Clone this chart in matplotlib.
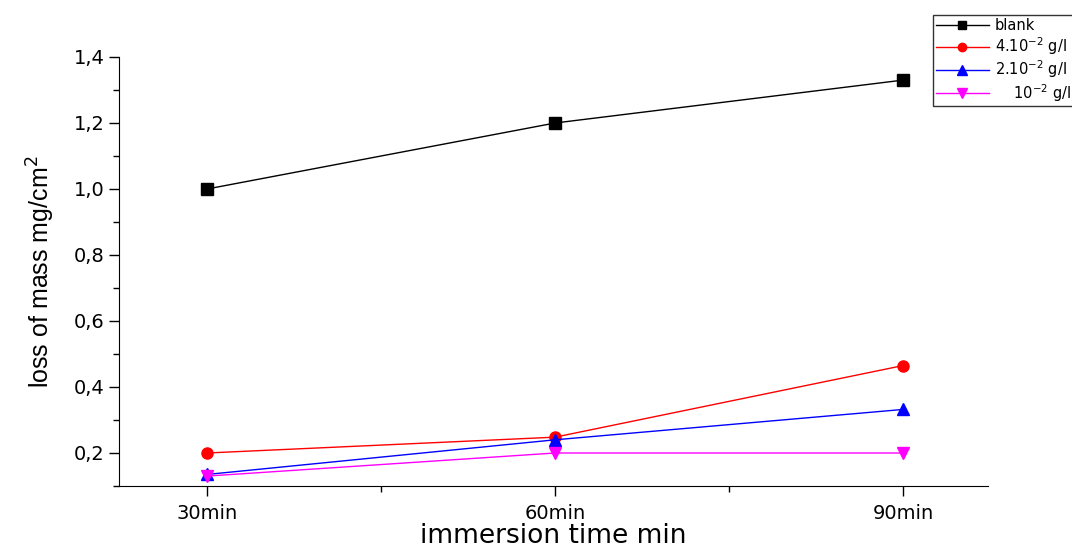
import matplotlib
matplotlib.use("Agg")
import matplotlib.pyplot as plt
from matplotlib.ticker import MultipleLocator, FuncFormatter

# data
times = ["30min", "60min", "90min"]
blank = [1.0, 1.2, 1.33]
c4 = [0.2, 0.248, 0.465]
c2 = [0.135, 0.24, 0.332]
c1 = [0.13, 0.2, 0.2]

plt.rcParams['font.family'] = ['DejaVu Sans']

fig = plt.figure(figsize=(10.72, 5.49), dpi=100)
ax = fig.add_axes([119/1072, 63/549, (988-119)/1072, (486-57)/549])

x = range(len(times))
ax.plot(x, blank, color='black', marker='s', ms=8, lw=1, label='blank')
ax.plot(x, c4, color='red', marker='o', ms=8, lw=1, label='4.10$^{-2}$ g/l')
ax.plot(x, c2, color='blue', marker='^', ms=9, lw=1, label='2.10$^{-2}$ g/l')
ax.plot(x, c1, color='magenta', marker='v', ms=9, lw=1, label='    10$^{-2}$ g/l')

ax.set_xlim(-0.253, 2.244)
ax.set_ylim(0.1, 1.4)
ax.set_xticks(list(x))
ax.set_xticklabels(times)
ax.xaxis.set_minor_locator(MultipleLocator(0.5))
ax.yaxis.set_minor_locator(MultipleLocator(0.1))
ax.set_yticks([0.2, 0.4, 0.6, 0.8, 1.0, 1.2, 1.4])
ax.yaxis.set_major_formatter(FuncFormatter(lambda v, p: f"{v:.1f}".replace('.', ',')))

ax.spines['top'].set_visible(False)
ax.spines['right'].set_visible(False)
ax.tick_params(which='major', direction='out', length=7, width=1, labelsize=14)
ax.tick_params(which='minor', direction='out', length=4, width=1)
ax.tick_params(axis='x', pad=6)

ax.set_xlabel('immersion time min', fontsize=19, labelpad=0)
ax.set_ylabel('loss of mass mg/cm$^2$', fontsize=18, labelpad=12,
              family=['Liberation Sans'])

leg = fig.legend(loc='upper left', bbox_to_anchor=(926/1072, 1 - 8/549),
                 fontsize=10.5, frameon=True, fancybox=False, edgecolor='black',
                 handlelength=3.6, handletextpad=0.4, borderpad=0.2,
                 labelspacing=0.12, markerscale=0.75)
leg.get_frame().set_linewidth(1)

fig.savefig('out.png', dpi=100)
